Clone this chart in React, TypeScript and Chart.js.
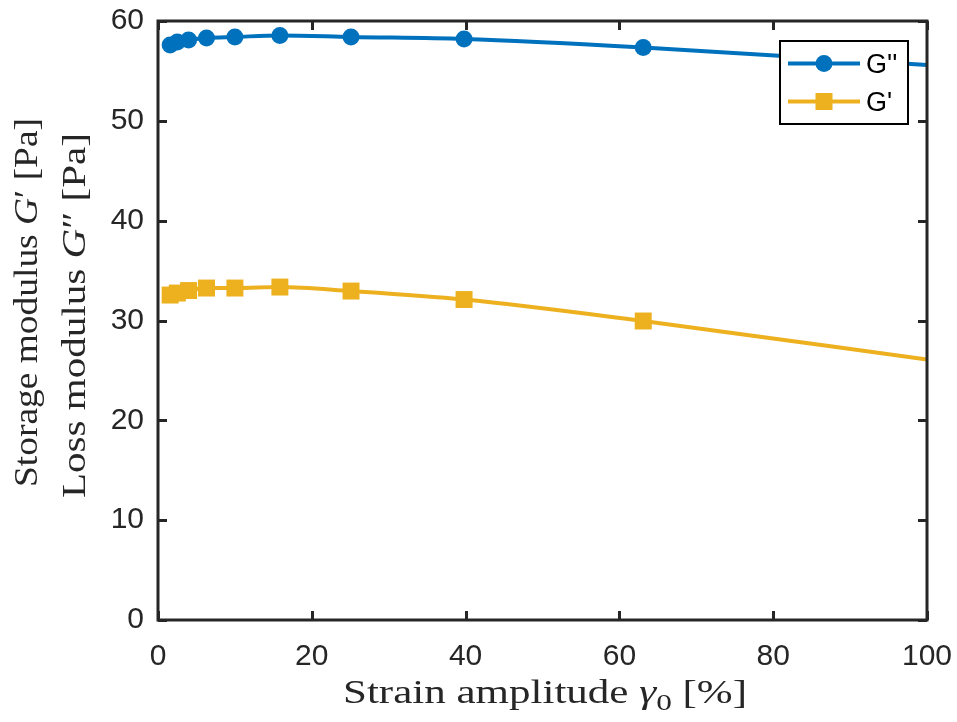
import React, { useEffect, useRef } from "react";
import { Chart, registerables } from "chart.js";

Chart.register(...registerables);

// ---- data ----
const strainAmplitude = [1.58, 2.51, 3.98, 6.31, 10, 15.85, 25.1, 39.8, 63.1, 100];
const lossModulus = [57.6, 57.9, 58.1, 58.3, 58.4, 58.55, 58.4, 58.2, 57.35, 55.6];
const storageModulus = [32.55, 32.75, 33.0, 33.25, 33.25, 33.35, 32.95, 32.1, 29.95, 26.1];
const xTickValues = [0, 20, 40, 60, 80, 100];
const yTickValues = [0, 10, 20, 30, 40, 50, 60];
const seriesLabels = ["G''", "G'"];
const xTitleParts = ["Strain amplitude ", "γ", "0", " [%]"];
const yTitle1Parts = ["Storage modulus ", "G", "′", " [Pa]"];
const yTitle2Parts = ["Loss modulus ", "G", "″", " [Pa]"];

const BLUE = "#0072BD";
const YELLOW = "#EDB120";
const AXIS = "#262626";
const SANS = "'Liberation Sans', Arial, sans-serif";
const SERIF = "'Liberation Serif', 'Times New Roman', serif";

type Part = { t: string; style: "n" | "i" | "sup" | "sub" };

function partsFor(p: string[], kind: "x" | "y"): Part[] {
  return [
    { t: p[0], style: "n" },
    { t: p[1], style: "i" },
    { t: p[2], style: kind === "x" ? "sub" : "sup" },
    { t: p[3], style: "n" },
  ];
}

function fontFor(style: Part["style"], size: number) {
  if (style === "i") return `italic ${size}px ${SERIF}`;
  if (style === "sub") return `${Math.round(size * 0.72)}px ${SERIF}`;
  return `${size}px ${SERIF}`;
}

function measureParts(ctx: CanvasRenderingContext2D, parts: Part[], size: number) {
  let w = 0;
  for (const p of parts) {
    ctx.font = fontFor(p.style, size);
    w += ctx.measureText(p.t).width;
  }
  return w;
}

function drawParts(ctx: CanvasRenderingContext2D, parts: Part[], size: number, x0: number, baseline: number) {
  let x = x0;
  ctx.textBaseline = "alphabetic";
  ctx.textAlign = "left";
  for (const p of parts) {
    ctx.font = fontFor(p.style, size);
    let dy = 0;
    if (p.style === "sub") dy = size * 0.2;
    ctx.fillText(p.t, x, baseline + dy);
    x += ctx.measureText(p.t).width;
  }
}

// draw a title whose extent (in px) spans [from, to] along its reading direction
function drawTitle(
  ctx: CanvasRenderingContext2D,
  parts: Part[],
  size: number,
  cx: number,
  cy: number,
  length: number,
  rotated: boolean
) {
  const w = measureParts(ctx, parts, size);
  ctx.save();
  ctx.translate(cx, cy);
  if (rotated) ctx.rotate(-Math.PI / 2);
  ctx.scale(length / w, 1);
  drawParts(ctx, parts, size, -w / 2, 0);
  ctx.restore();
}

const framePlugin = {
  id: "matlabFrame",
  afterDatasetsDraw(chart: any) {
    const ctx: CanvasRenderingContext2D = chart.ctx;
    const { left, right, top, bottom } = chart.chartArea;
    const xs = chart.scales.x;
    const ys = chart.scales.y;
    ctx.save();
    ctx.strokeStyle = AXIS;
    ctx.lineWidth = 3;
    // inside ticks
    const tl = 9;
    ctx.beginPath();
    for (const v of xTickValues) {
      const px = Math.round(xs.getPixelForValue(v)) + 0.5;
      ctx.moveTo(px, bottom);
      ctx.lineTo(px, bottom - tl);
      ctx.moveTo(px, top);
      ctx.lineTo(px, top + tl);
    }
    for (const v of yTickValues) {
      const py = Math.round(ys.getPixelForValue(v)) + 0.5;
      ctx.moveTo(left, py);
      ctx.lineTo(left + tl, py);
      ctx.moveTo(right, py);
      ctx.lineTo(right - tl, py);
    }
    ctx.stroke();
    ctx.strokeRect(left, top, right - left, bottom - top);

    // legend box
    const lx = 780, ly = 41, lw = 128, lh = 83;
    ctx.fillStyle = "#ffffff";
    ctx.fillRect(lx, ly, lw, lh);
    ctx.lineWidth = 2;
    ctx.strokeStyle = "#000000";
    ctx.strokeRect(lx, ly, lw, lh);
    const rows = [
      { label: seriesLabels[0], color: BLUE, y: 63.5, marker: "circle" },
      { label: seriesLabels[1], color: YELLOW, y: 101.5, marker: "rect" },
    ];
    for (const r of rows) {
      ctx.strokeStyle = r.color;
      ctx.lineWidth = 4;
      ctx.beginPath();
      ctx.moveTo(788, r.y);
      ctx.lineTo(860, r.y);
      ctx.stroke();
      ctx.fillStyle = r.color;
      if (r.marker === "circle") {
        ctx.beginPath();
        ctx.arc(824, r.y, 8.5, 0, Math.PI * 2);
        ctx.fill();
      } else {
        ctx.fillRect(824 - 8.5, r.y - 8.5, 17, 17);
      }
      ctx.fillStyle = "#000000";
      ctx.font = `27px ${SANS}`;
      ctx.textAlign = "left";
      ctx.textBaseline = "middle";
      ctx.fillText(r.label, 866, r.y + 2);
    }

    // axis titles
    ctx.fillStyle = AXIS;
    const size = 33;
    drawTitle(ctx, partsFor(xTitleParts, "x"), size, 545, 703, 404, false);
    drawTitle(ctx, partsFor(yTitle1Parts, "y"), size, 37, 302.5, 369, true);
    drawTitle(ctx, partsFor(yTitle2Parts, "y"), size, 85, 315.5, 365, true);

    ctx.restore();
  },
};

export default function App() {
  const ref = useRef<HTMLCanvasElement>(null);
  useEffect(() => {
    if (!ref.current) return;
    const last = strainAmplitude.length - 1;
    const chart = new Chart(ref.current, {
      type: "line",
      data: {
        datasets: [
          {
            label: seriesLabels[0],
            data: strainAmplitude.map((x, i) => ({ x, y: lossModulus[i] })),
            borderColor: BLUE,
            backgroundColor: BLUE,
            borderWidth: 4,
            pointStyle: "circle",
            pointRadius: (c: any) => (c.dataIndex === last ? 0 : 8.5),
            pointBorderWidth: 0,
            cubicInterpolationMode: "monotone",
            fill: false,
          },
          {
            label: seriesLabels[1],
            data: strainAmplitude.map((x, i) => ({ x, y: storageModulus[i] })),
            borderColor: YELLOW,
            backgroundColor: YELLOW,
            borderWidth: 4,
            pointStyle: "rect",
            pointRadius: (c: any) => (c.dataIndex === last ? 0 : 12),
            pointBorderWidth: 0,
            cubicInterpolationMode: "monotone",
            fill: false,
          },
        ],
      },
      options: {
        animation: false,
        responsive: false,
        maintainAspectRatio: false,
        layout: { padding: { left: 0, top: 21, right: 30, bottom: 0 } },
        plugins: { legend: { display: false }, tooltip: { enabled: false } },
        scales: {
          x: {
            type: "linear",
            min: 0,
            max: 100,
            grid: { display: false, drawTicks: false },
            border: { display: false },
            afterBuildTicks: (s: any) => {
              s.ticks = xTickValues.map((v) => ({ value: v }));
            },
            afterFit: (s: any) => {
              s.height = 102;
              s.paddingLeft = 0;
              s.paddingRight = 0;
            },
            ticks: {
              color: AXIS,
              font: { family: SANS, size: 30 },
              padding: 19,
              maxRotation: 0,
              autoSkip: false,
            },
          },
          y: {
            type: "linear",
            min: 0,
            max: 60,
            grid: { display: false, drawTicks: false },
            border: { display: false },
            afterBuildTicks: (s: any) => {
              s.ticks = yTickValues.map((v) => ({ value: v }));
            },
            afterFit: (s: any) => {
              s.width = 158;
              s.paddingTop = 0;
              s.paddingBottom = 0;
            },
            ticks: {
              color: AXIS,
              font: { family: SANS, size: 30 },
              padding: 14,
              autoSkip: false,
            },
          },
        },
      },
      plugins: [framePlugin],
    } as any);
    return () => chart.destroy();
  }, []);
  return (
    <div style={{ position: "fixed", left: 0, top: 0, width: 957, height: 722, background: "#fff" }}>
      <canvas ref={ref} width={957} height={722} style={{ width: 957, height: 722, display: "block" }} />
    </div>
  );
}
